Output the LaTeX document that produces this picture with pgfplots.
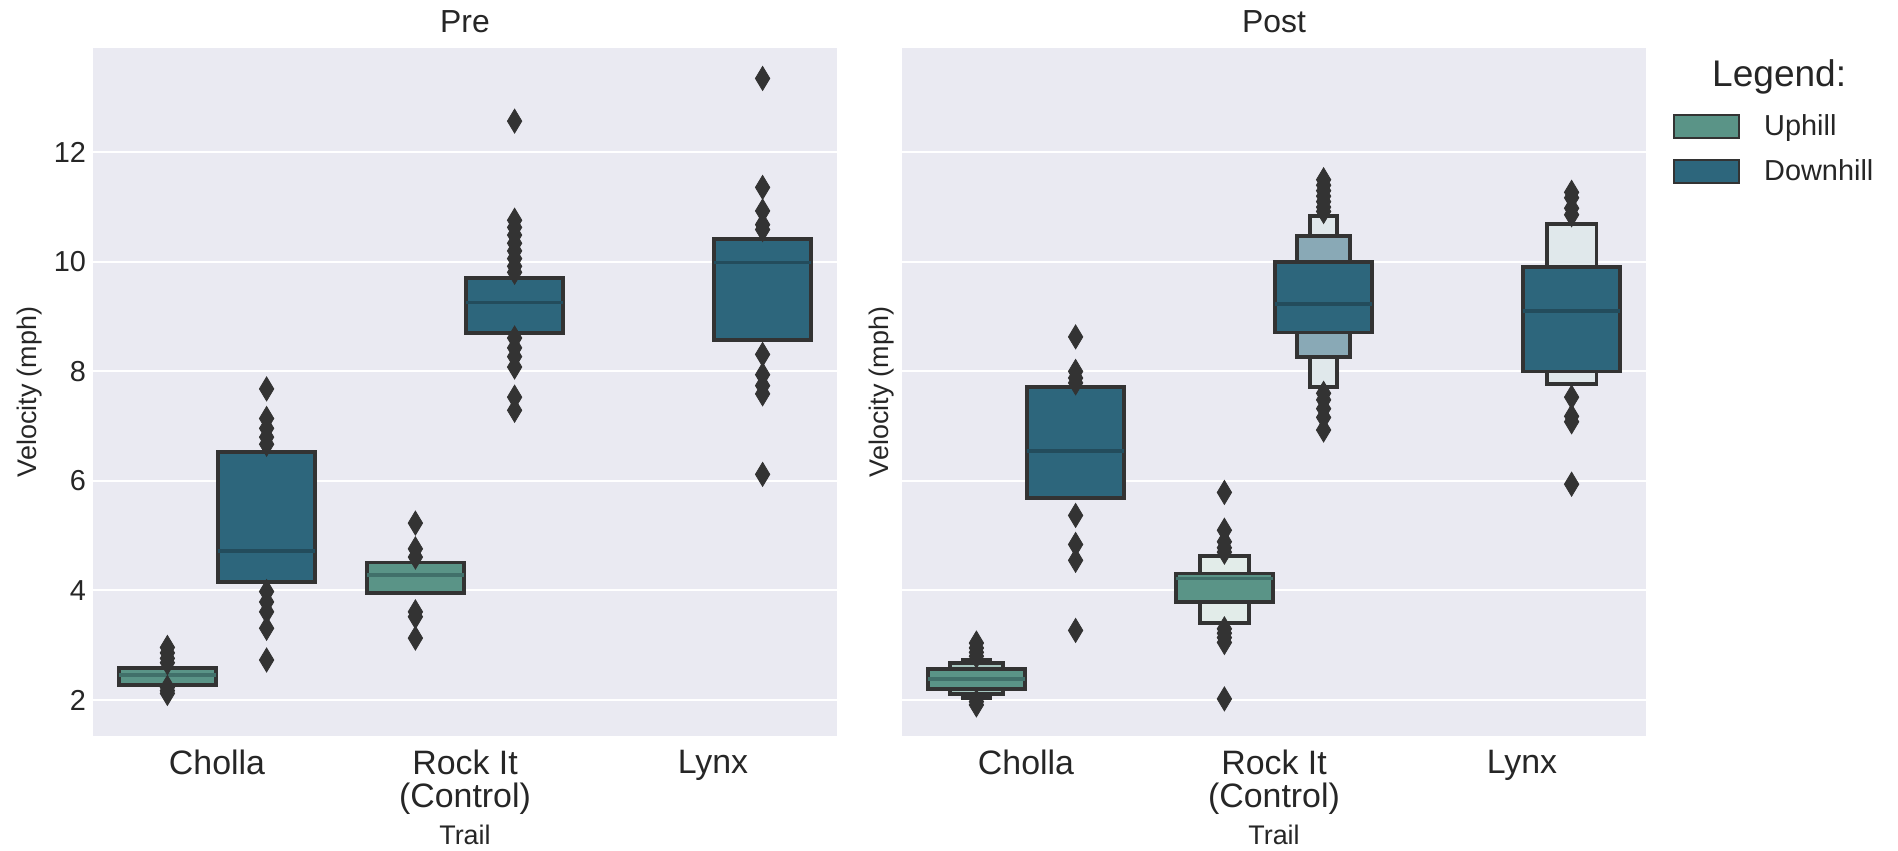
\documentclass[border=0pt]{standalone}
\usepackage{fontspec}
\setmainfont{Liberation Sans}
\usepackage{pgfplots}
\pgfplotsset{compat=1.18}
\definecolor{bgc}{HTML}{EAEAF2}
\definecolor{edgec}{HTML}{333333}
\definecolor{textc}{HTML}{262626}
\definecolor{uph}{HTML}{5A9487}
\definecolor{uphA}{HTML}{A6C6BF}
\definecolor{uphB}{HTML}{E2ECE9}
\definecolor{dnh}{HTML}{2D667C}
\definecolor{dnhA}{HTML}{89A9B6}
\definecolor{dnhB}{HTML}{E0E8EB}
\definecolor{uphmed}{HTML}{41706A}
\definecolor{dnhmed}{HTML}{234C5C}

% letter-value box: x-left, x-right, low, high, fill
\newcommand{\lvbox}[5]{\addplot[fill=#5, draw=edgec, line width=1.9bp, forget plot] coordinates {(#1,#3) (#2,#3) (#2,#4) (#1,#4)} -- cycle;}
% median: x-left, x-right, value, colour
\newcommand{\med}[4]{\addplot[draw=#4, line width=1.9bp, forget plot] coordinates {(#1,#3) (#2,#3)};}
% outliers
\newcommand{\outl}[1]{\addplot[only marks, mark=diamond*, mark size=6bp, mark options={draw=edgec, fill=edgec, line width=0.4bp, xscale=0.8}, forget plot] coordinates {#1};}

\pgfplotsset{myax/.style={
  scale only axis, width=372bp, height=343.7bp,
  xmin=-0.5, xmax=2.5, ymin=1.348, ymax=13.9,
  clip=false,
  axis background/.style={fill=bgc},
  axis line style={draw=none},
  tick style={draw=none}, major tick length=0pt,
  ymajorgrids, grid style={white, line width=1bp},
  ytick={2,4,6,8,10,12}, xtick={0,1,2},
  xticklabels={Cholla,{Rock It\\(Control)},Lynx},
  xticklabel style={align=center, font=\fontsize{17}{16.8}\selectfont, text=textc},
  xticklabel shift=3.5bp,
  xlabel shift=-1.5bp,
  yticklabel style={font=\fontsize{14.5}{17}\selectfont, text=textc},
  /pgf/number format/assume math mode=true,
  label style={font=\fontsize{13.5}{16}\selectfont, text=textc},
  title style={font=\fontsize{16}{19}\selectfont, text=textc, yshift=-1.8bp},
}}

\begin{document}
\begin{tikzpicture}
\useasboundingbox (0,0) rectangle (949bp,425.5bp);

% ---------------- Pre ----------------
\begin{axis}[myax, at={(46.5bp,57.65bp)}, anchor=south west,
  title={Pre}, ylabel={Velocity (mph)}, xlabel={Trail}, ylabel shift=-1.2bp]
% Cholla uphill
\lvbox{-0.396}{-0.004}{2.28}{2.59}{uph}
\med{-0.396}{-0.004}{2.45}{uphmed}
\outl{(-0.2,2.96) (-0.2,2.86) (-0.2,2.76) (-0.2,2.68) (-0.2,2.23) (-0.2,2.17) (-0.2,2.12)}
% Cholla downhill
\lvbox{0.004}{0.396}{4.16}{6.53}{dnh}
\med{0.004}{0.396}{4.72}{dnhmed}
\outl{(0.2,7.68) (0.2,7.14) (0.2,6.96) (0.2,6.80) (0.2,6.67) (0.2,3.98) (0.2,3.79) (0.2,3.61) (0.2,3.31) (0.2,2.73)}
% Rock It uphill
\lvbox{0.604}{0.996}{3.96}{4.51}{uph}
\med{0.604}{0.996}{4.28}{uphmed}
\outl{(0.8,5.23) (0.8,4.76) (0.8,4.61) (0.8,3.61) (0.8,3.52) (0.8,3.13)}
% Rock It downhill
\lvbox{1.004}{1.396}{8.70}{9.71}{dnh}
\med{1.004}{1.396}{9.26}{dnhmed}
\outl{(1.2,12.57) (1.2,10.76) (1.2,10.63) (1.2,10.49) (1.2,10.34) (1.2,10.20) (1.2,10.06) (1.2,9.92) (1.2,9.81) (1.2,8.61) (1.2,8.43) (1.2,8.27) (1.2,8.08) (1.2,7.53) (1.2,7.29)}
% Lynx downhill
\lvbox{2.004}{2.396}{8.57}{10.42}{dnh}
\med{2.004}{2.396}{9.99}{dnhmed}
\outl{(2.2,13.35) (2.2,11.36) (2.2,10.93) (2.2,10.68) (2.2,10.59) (2.2,8.31) (2.2,7.94) (2.2,7.74) (2.2,7.59) (2.2,6.12)}
\end{axis}

% ---------------- Post ----------------
\begin{axis}[myax, at={(451bp,57.65bp)}, anchor=south west,
  title={Post}, ylabel={Velocity (mph)}, xlabel={Trail}, yticklabels={},
  ylabel shift=-6.5bp,
  legend style={at={(axis description cs:1.036,0.905)}, anchor=north west,
    draw=none, fill=none, inner sep=0pt, row sep=9.8bp, column sep=12bp,
    font=\fontsize{14.5}{17}\selectfont, text=textc,
    nodes={inner sep=0pt}},
  legend cell align=left,
  legend image code/.code={\draw[#1, line width=1bp] (0bp,-5.75bp) rectangle (32.5bp,5.75bp);}]
\addlegendimage{fill=uph, draw=edgec}
\addlegendentry{Uphill}
\addlegendimage{fill=dnh, draw=edgec}
\addlegendentry{Downhill}
% Cholla uphill
\lvbox{-0.255}{-0.145}{2.04}{2.74}{uphB}
\lvbox{-0.307}{-0.093}{2.11}{2.67}{uphA}
\lvbox{-0.396}{-0.004}{2.20}{2.56}{uph}
\med{-0.396}{-0.004}{2.38}{uphmed}
\outl{(-0.2,3.04) (-0.2,2.95) (-0.2,2.87) (-0.2,2.80) (-0.2,1.97) (-0.2,1.91)}
% Cholla downhill
\lvbox{0.004}{0.396}{5.69}{7.71}{dnh}
\med{0.004}{0.396}{6.55}{dnhmed}
\outl{(0.2,8.63) (0.2,8.00) (0.2,7.88) (0.2,7.79) (0.2,5.37) (0.2,4.84) (0.2,4.55) (0.2,3.27)}
% Rock It uphill
\lvbox{0.7}{0.9}{3.41}{4.63}{uphB}
\lvbox{0.604}{0.996}{3.79}{4.31}{uph}
\med{0.604}{0.996}{4.22}{uphmed}
\outl{(0.8,5.79) (0.8,5.10) (0.8,4.89) (0.8,4.78) (0.8,4.70) (0.8,3.30) (0.8,3.22) (0.8,3.14) (0.8,3.05) (0.8,2.02)}
% Rock It downhill
\lvbox{1.145}{1.255}{7.72}{10.84}{dnhB}
\lvbox{1.093}{1.307}{8.27}{10.47}{dnhA}
\lvbox{1.004}{1.396}{8.71}{10.00}{dnh}
\med{1.004}{1.396}{9.23}{dnhmed}
\outl{(1.2,11.50) (1.2,11.40) (1.2,11.30) (1.2,11.20) (1.2,11.10) (1.2,11.00) (1.2,10.92) (1.2,7.60) (1.2,7.48) (1.2,7.32) (1.2,7.16) (1.2,6.93)}
% Lynx downhill
\lvbox{2.1}{2.3}{7.77}{10.69}{dnhB}
\lvbox{2.004}{2.396}{8.00}{9.91}{dnh}
\med{2.004}{2.396}{9.11}{dnhmed}
\outl{(2.2,11.27) (2.2,11.17) (2.2,10.98) (2.2,10.86) (2.2,7.53) (2.2,7.18) (2.2,7.08) (2.2,5.94)}
\node[font=\fontsize{18.6}{22}\selectfont, text=textc] at (axis description cs:1.179,0.958) {Legend:};
\end{axis}
\end{tikzpicture}
\end{document}
